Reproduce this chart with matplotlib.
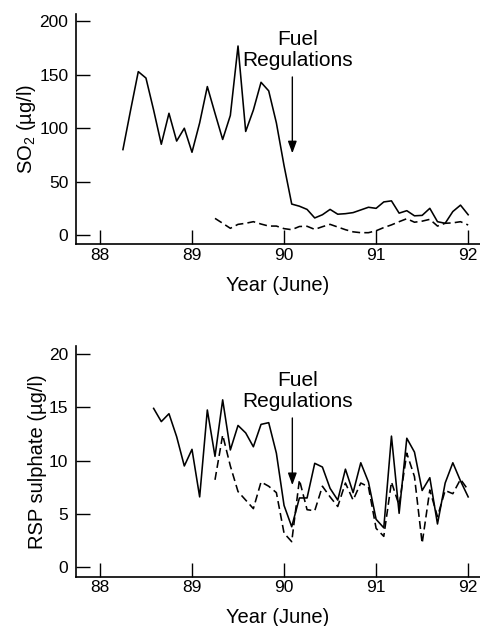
import matplotlib
matplotlib.use('Agg')
import matplotlib.pyplot as plt
import numpy as np

plt.rcParams['font.family'] = ['Liberation Sans', 'DejaVu Sans']
plt.rcParams['mathtext.fontset'] = 'custom'
plt.rcParams['mathtext.rm'] = 'Liberation Sans'
plt.rcParams['mathtext.default'] = 'regular'

# monthly values, year given as 88..92 (June)
so2_solid_start = 88.25
so2_solid = [80, 117, 153, 147, 117, 85, 114, 88, 100, 77.5, 105, 139,
             114, 89.5, 112, 177, 97, 117, 143, 135, 105, 65, 29, 27,
             24, 16, 19, 24, 19.5, 20, 21, 23.5, 26, 25, 31, 32,
             20.5, 22.8, 18, 18.4, 25, 12.5, 11, 22, 28, 19]
so2_dash_start = 89.25
so2_dash = [15.6, 11, 6.3, 10, 11, 12.5, 10.3, 8.4, 8.4, 6, 5, 8,
            8.2, 5.3, 7.8, 10, 7.5, 5, 3, 2.2, 2.2, 4, 7, 9.5,
            12.5, 15.3, 12, 13, 14.7, 8.4, 11, 11.4, 12.5, 9.4]

rsp_solid_start = 88 + 7 / 12
rsp_solid = [14.9, 13.66, 14.4, 12.25, 9.5, 11.06, 6.6, 14.75, 10.4, 15.7,
             11, 13.3, 12.6, 11.3, 13.4, 13.56, 10.7, 5.8, 3.8, 6.5,
             6.5, 9.75, 9.4, 7.4, 6.3, 9.2, 7.0, 9.8, 8.0, 4.5,
             3.7, 12.3, 5.06, 12.1, 10.8, 7.2, 8.4, 4.06, 7.9, 9.8,
             8.1, 6.6]
rsp_dash_start = 89.25
rsp_dash = [8.2, 12.4, 9.5, 7.1, 6.3, 5.5, 8.0, 7.6, 7.0, 3.2, 2.4, 8.2,
            5.4, 5.3, 7.6, 6.6, 5.7, 7.9, 6.3, 7.9, 7.55, 3.65, 2.9, 8.0,
            5.8, 10.7, 8.5, 2.25, 7.25, 4.75, 7.2, 6.9, 8.25, 7.25]

years = [88, 89, 90, 91, 92]
fuel_reg = 90.09


def months(start, vals):
    return start + np.arange(len(vals)) / 12


fig = plt.figure(figsize=(4.8, 6.26), dpi=100)
ax1 = fig.add_axes([0.1583, 0.6097, 0.842, 0.368])
ax2 = fig.add_axes([0.1583, 0.0788, 0.842, 0.3685])

panels = [
    (ax1, so2_solid_start, so2_solid, so2_dash_start, so2_dash,
     [0, 50, 100, 150, 200], (-8.7, 207), 'SO$_2$ (µg/l)', 173.5, (148, 76.5)),
    (ax2, rsp_solid_start, rsp_solid, rsp_dash_start, rsp_dash,
     [0, 5, 10, 15, 20], (-0.88, 20.75), 'RSP sulphate (µg/l)', 16.5, (14.0, 7.7)),
]

for ax, s0, sv, d0, dv, yt, yl, lab, ty, (a0, a1) in panels:
    ax.plot(months(s0, sv), sv, color='black', lw=1.15)
    ax.plot(months(d0, dv), dv, color='black', lw=1.15, dashes=(5, 2.6))
    ax.set_xlim(87.74, 92.13)
    ax.set_ylim(*yl)
    ax.set_xticks(years)
    ax.set_yticks(yt)
    ax.spines['top'].set_visible(False)
    ax.spines['right'].set_visible(False)
    ax.spines['left'].set_linewidth(1.2)
    ax.spines['bottom'].set_linewidth(1.2)
    ax.tick_params(direction='in', length=10, width=1, labelsize=12.5)
    ax.tick_params(axis='y', pad=5.5)
    ax.tick_params(axis='x', pad=2.5)
    ax.set_xlabel('Year (June)', fontsize=14.5, labelpad=9.5)
    ax.set_ylabel(lab, fontsize=14.5, labelpad=1)
    ax.annotate('', xy=(fuel_reg, a1), xytext=(fuel_reg, a0),
                arrowprops=dict(arrowstyle='-|>,head_length=0.6,head_width=0.22',
                                color='black', lw=1, mutation_scale=12,
                                shrinkA=0, shrinkB=0))
    ax.text(90.15, ty, 'Fuel\nRegulations', ha='center', va='center',
            fontsize=15, linespacing=1.15)

fig.savefig('out.png', dpi=100)
